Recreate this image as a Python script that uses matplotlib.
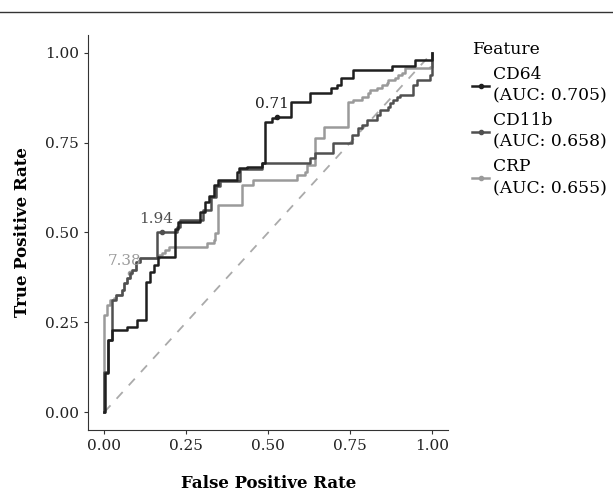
import matplotlib.pyplot as plt
from matplotlib.lines import Line2D

# ROC curve corners (false positive rate, true positive rate)
cd64_fpr = [0.0, 0.003, 0.003, 0.012, 0.012, 0.024, 0.024, 0.070, 0.070, 0.101, 0.101, 0.128,
            0.128, 0.140, 0.140, 0.150, 0.150, 0.165, 0.165, 0.216, 0.216, 0.225, 0.225, 0.293,
            0.293, 0.308, 0.308, 0.320, 0.335, 0.348, 0.405, 0.405, 0.412, 0.436, 0.482, 0.491,
            0.491, 0.512, 0.527, 0.570, 0.570, 0.628, 0.628, 0.692, 0.692, 0.710, 0.723, 0.759,
            0.759, 0.878, 0.878, 0.921, 0.948, 0.994, 1.0]
cd64_tpr = [0.0, 0.0, 0.110, 0.110, 0.201, 0.201, 0.228, 0.228, 0.237, 0.237, 0.256, 0.256,
            0.362, 0.362, 0.390, 0.390, 0.410, 0.410, 0.432, 0.432, 0.510, 0.510, 0.529, 0.529,
            0.557, 0.557, 0.585, 0.602, 0.632, 0.646, 0.646, 0.668, 0.680, 0.682, 0.694, 0.694,
            0.808, 0.819, 0.822, 0.822, 0.864, 0.864, 0.889, 0.889, 0.903, 0.911, 0.930, 0.939,
            0.953, 0.953, 0.964, 0.964, 0.981, 0.981, 1.0]

cd11b_fpr = [0.0, 0.0, 0.012, 0.012, 0.024, 0.024, 0.034, 0.044, 0.054, 0.059, 0.069, 0.079,
             0.084, 0.095, 0.110, 0.160, 0.160, 0.176, 0.222, 0.222, 0.230, 0.300, 0.300, 0.312,
             0.325, 0.340, 0.352, 0.410, 0.415, 0.440, 0.482, 0.628, 0.628, 0.643, 0.643, 0.699,
             0.699, 0.750, 0.756, 0.775, 0.786, 0.801, 0.831, 0.841, 0.867, 0.872, 0.882, 0.892,
             0.902, 0.933, 0.943, 0.953, 0.994, 1.0]
cd11b_tpr = [0.0, 0.111, 0.111, 0.201, 0.201, 0.312, 0.326, 0.326, 0.340, 0.358, 0.372, 0.386,
             0.396, 0.419, 0.428, 0.428, 0.502, 0.502, 0.502, 0.516, 0.535, 0.535, 0.563, 0.563,
             0.600, 0.629, 0.643, 0.643, 0.676, 0.676, 0.694, 0.694, 0.708, 0.708, 0.721, 0.721,
             0.748, 0.748, 0.772, 0.790, 0.799, 0.813, 0.827, 0.841, 0.850, 0.860, 0.869, 0.878,
             0.883, 0.883, 0.911, 0.925, 0.939, 1.0]

crp_fpr = [0.0, 0.0, 0.008, 0.018, 0.028, 0.034, 0.044, 0.054, 0.059, 0.069, 0.079, 0.084,
           0.095, 0.110, 0.155, 0.166, 0.176, 0.186, 0.196, 0.308, 0.313, 0.333, 0.338, 0.348,
           0.348, 0.420, 0.420, 0.455, 0.455, 0.587, 0.587, 0.613, 0.618, 0.638, 0.643, 0.643,
           0.669, 0.669, 0.745, 0.745, 0.760, 0.786, 0.806, 0.811, 0.831, 0.847, 0.862, 0.867,
           0.887, 0.897, 0.908, 0.918, 0.994, 1.0]
crp_tpr = [0.0, 0.270, 0.298, 0.312, 0.317, 0.326, 0.326, 0.340, 0.358, 0.372, 0.386, 0.396,
           0.419, 0.428, 0.428, 0.437, 0.442, 0.451, 0.460, 0.460, 0.470, 0.479, 0.498, 0.507,
           0.577, 0.577, 0.632, 0.632, 0.646, 0.646, 0.660, 0.669, 0.688, 0.688, 0.688, 0.762,
           0.762, 0.793, 0.793, 0.864, 0.869, 0.878, 0.888, 0.897, 0.901, 0.911, 0.915, 0.925,
           0.930, 0.939, 0.944, 0.957, 0.962, 1.0]

features = ["CD64", "CD11b", "CRP"]
auc = ["0.705", "0.658", "0.655"]
cutoff_labels = ["0.71", "1.94", "7.38"]
cutoff_fpr = [0.527, 0.176, 0.079]
cutoff_tpr = [0.822, 0.502, 0.386]
colors = ["#1f1f1f", "#505050", "#9a9a9a"]

curves = [(cd64_fpr, cd64_tpr), (cd11b_fpr, cd11b_tpr), (crp_fpr, crp_tpr)]

plt.rcParams["font.family"] = ["DejaVu Serif"]

fig = plt.figure(figsize=(6.13, 4.92), dpi=100)
ax = fig.add_axes([0.1436, 0.126, 0.5879, 0.803])

ax.plot([0, 1], [0, 1], color="#aaaaaa", lw=1.3, ls=(0, (5, 5)))

# draw light to dark so CD64 sits on top
for i in [2, 1, 0]:
    fpr, tpr = curves[i]
    ax.plot(fpr, tpr, color=colors[i], lw=1.8, drawstyle="steps-post")
    ax.plot(cutoff_fpr[i], cutoff_tpr[i], "o", color=colors[i], ms=3)
    ax.annotate(cutoff_labels[i], (cutoff_fpr[i], cutoff_tpr[i]), xytext=(-4, 4),
                textcoords="offset points", ha="center", va="bottom",
                color=colors[i], fontsize=11)

ax.set_xlim(-0.05, 1.05)
ax.set_ylim(-0.05, 1.05)
ax.set_xticks([0, 0.25, 0.5, 0.75, 1.0])
ax.set_yticks([0, 0.25, 0.5, 0.75, 1.0])
ax.set_xticklabels(["0.00", "0.25", "0.50", "0.75", "1.00"])
ax.set_yticklabels(["0.00", "0.25", "0.50", "0.75", "1.00"])
ax.tick_params(labelsize=11, length=3, width=0.8, colors="#333333", labelcolor="#222222")
for s in ["top", "right"]:
    ax.spines[s].set_visible(False)
for s in ["left", "bottom"]:
    ax.spines[s].set_color("#333333")
    ax.spines[s].set_linewidth(0.8)

ax.set_xlabel("False Positive Rate", fontsize=12, fontweight="bold", labelpad=16)
ax.set_ylabel("True Positive Rate", fontsize=12, fontweight="bold", labelpad=10)

handles = [Line2D([0], [0], color=c, lw=1.8, marker="o", ms=3) for c in colors]
labels = [f"{f}\n(AUC: {a})" for f, a in zip(features, auc)]
leg = fig.legend(handles, labels, title="Feature", loc="upper left",
                 bbox_to_anchor=(0.759, 0.93), frameon=False, fontsize=12.3,
                 title_fontsize=12.3, handlelength=1.0, handletextpad=0.25,
                 labelspacing=0.45, borderaxespad=0)
leg._legend_box.align = "left"
for t in leg.get_texts():
    t.set_linespacing(1.35)

# rule across the top of the figure
fig.add_artist(Line2D([0, 1], [0.976, 0.976], color="#333333", lw=1.0))

fig.savefig("out.png", dpi=100)
